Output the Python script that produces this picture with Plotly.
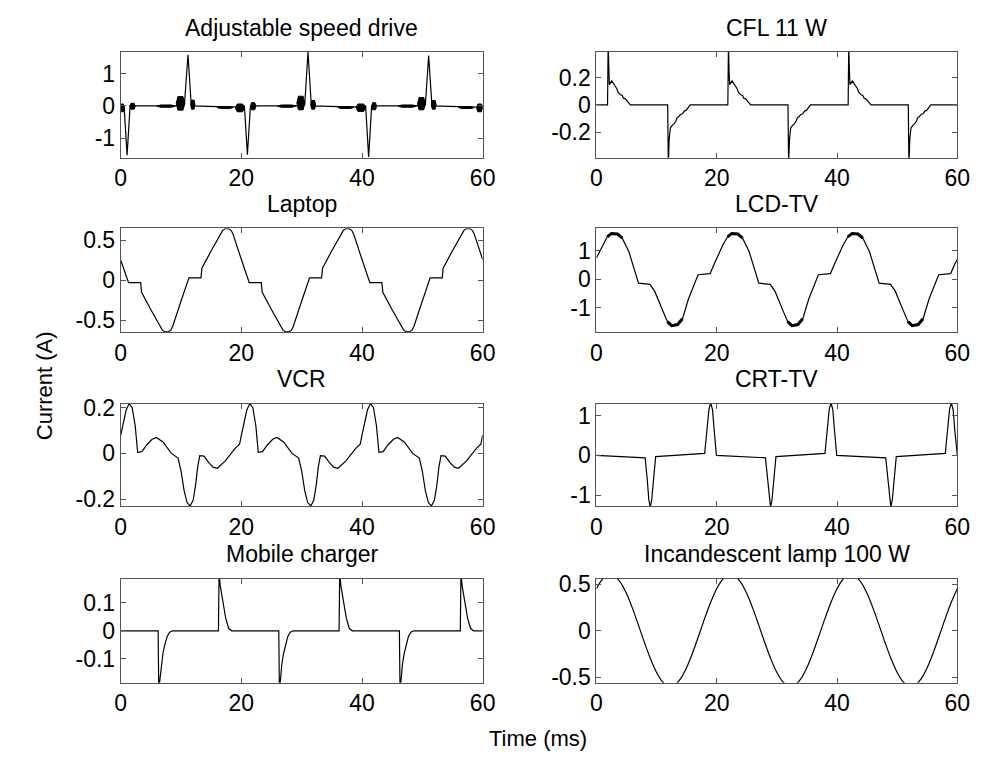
import plotly.graph_objects as go

# ---------------- data (time in ms, current in A) ----------------
time_ticks = [0, 20, 40, 60]
time_ticktext = ["0", "20", "40", "60"]

# Adjustable speed drive
asd_t = [0, 0.55, 1.05, 1.55, 2.4, 6, 9, 10.55, 11.15, 11.7, 12.3, 16, 19, 20.5, 21.0,
         21.5, 22.4, 26, 29, 30.5, 31.05, 31.6, 32.3, 36, 39, 40.6, 41.1, 41.6, 42.4, 46,
         49, 50.5, 51.05, 51.6, 52.3, 56, 60]
asd_i = [0, 0, -1.52, 0, 0, -0.01, 0, 0.03, 1.58, 0, 0, -0.02, -0.03, 0, -1.5,
         0, 0, -0.01, 0, 0.03, 1.66, 0, 0, -0.02, -0.03, 0, -1.57, 0, 0, -0.01,
         0, 0.03, 1.55, 0, 0, -0.02, -0.04]
# switching-noise blobs of the drive current (start, end, low, high)
asd_blob_t0 = [0, 1.5, 6, 9.2, 11.6, 16, 19.0, 21.5, 26, 29.2, 31.5, 36, 39.0, 41.6, 46, 49.2, 51.5, 56, 59.0]
asd_blob_t1 = [0.55, 2.4, 9, 10.6, 12.3, 18.6, 20.5, 22.4, 29, 30.5, 32.3, 38.6, 40.6, 42.4, 49, 50.5, 52.3, 58.6, 60]
asd_blob_lo = [-0.18, -0.1, -0.04, -0.13, -0.1, -0.08, -0.18, -0.12, -0.04, -0.12, -0.1, -0.08, -0.17, -0.12, -0.04, -0.12, -0.1, -0.08, -0.18]
asd_blob_hi = [0.06, 0.08, 0.03, 0.29, 0.18, -0.02, 0.06, 0.1, 0.03, 0.3, 0.17, -0.02, 0.06, 0.1, 0.03, 0.26, 0.17, -0.02, 0.06]

# CFL 11 W
cfl_t = [0, 1.85, 1.95, 2.05, 2.15, 2.55, 2.8, 3.0, 3.2, 3.4, 3.6, 3.8, 4.0, 4.3, 4.5, 4.8, 5.1, 5.4, 5.65,
         11.85, 11.95, 12.1, 12.3, 12.6, 12.9, 13.2, 13.4, 13.7, 14.0, 14.3, 14.6, 14.9, 15.2, 15.6,
         21.85, 21.95, 22.05, 22.15, 22.55, 22.8, 23.0, 23.2, 23.4, 23.6, 23.8, 24.0, 24.3, 24.5, 24.8, 25.1, 25.4, 25.65,
         31.85, 31.95, 32.1, 32.3, 32.6, 32.9, 33.2, 33.4, 33.7, 34.0, 34.3, 34.6, 34.9, 35.2, 35.6,
         41.85, 41.95, 42.05, 42.15, 42.55, 42.8, 43.0, 43.2, 43.4, 43.6, 43.8, 44.0, 44.3, 44.5, 44.8, 45.1, 45.4, 45.65,
         51.85, 51.95, 52.1, 52.3, 52.6, 52.9, 53.2, 53.4, 53.7, 54.0, 54.3, 54.6, 54.9, 55.2, 55.6, 60]
cfl_i = [0, 0, 0.45, 0.26, 0.15, 0.178, 0.16, 0.155, 0.14, 0.12, 0.095, 0.085, 0.075, 0.07, 0.05, 0.045, 0.03, 0.02, 0,
         0, -0.45, -0.25, -0.17, -0.15, -0.14, -0.12, -0.095, -0.085, -0.07, -0.065, -0.045, -0.04, -0.025, 0,
         0, 0.45, 0.26, 0.15, 0.178, 0.16, 0.155, 0.14, 0.12, 0.095, 0.085, 0.075, 0.07, 0.05, 0.045, 0.03, 0.02, 0,
         0, -0.45, -0.25, -0.17, -0.15, -0.14, -0.12, -0.095, -0.085, -0.07, -0.065, -0.045, -0.04, -0.025, 0,
         0, 0.45, 0.26, 0.15, 0.178, 0.16, 0.155, 0.14, 0.12, 0.095, 0.085, 0.075, 0.07, 0.05, 0.045, 0.03, 0.02, 0,
         0, -0.45, -0.25, -0.17, -0.15, -0.14, -0.12, -0.095, -0.085, -0.07, -0.065, -0.045, -0.04, -0.025, 0, 0]

# Laptop
lap_t = [0, 1.3, 3.3, 3.45, 5.0, 6.5, 6.9, 7.3, 7.9, 8.3, 8.6, 10.0, 11.3, 13.3, 13.45, 15.0, 16.5, 16.9, 17.3, 17.9, 18.3, 18.6, 20.0,
         21.3, 23.3, 23.45, 25.0, 26.5, 26.9, 27.3, 27.9, 28.3, 28.6, 30.0, 31.3, 33.3, 33.45, 35.0, 36.5, 36.9, 37.3, 37.9, 38.3, 38.6, 40.0,
         41.3, 43.3, 43.45, 45.0, 46.5, 46.9, 47.3, 47.9, 48.3, 48.6, 50.0, 51.3, 53.3, 53.45, 55.0, 56.5, 56.9, 57.3, 57.9, 58.3, 58.6, 60.0]
lap_i = [0.25, -0.03, -0.03, -0.15, -0.37, -0.58, -0.625, -0.645, -0.645, -0.625, -0.58, -0.26, 0.03, 0.03, 0.15, 0.37, 0.58, 0.625, 0.645, 0.645, 0.625, 0.58, 0.26,
         -0.03, -0.03, -0.15, -0.37, -0.58, -0.625, -0.645, -0.645, -0.625, -0.58, -0.26, 0.03, 0.03, 0.15, 0.37, 0.58, 0.625, 0.645, 0.645, 0.625, 0.58, 0.26,
         -0.03, -0.03, -0.15, -0.37, -0.58, -0.625, -0.645, -0.645, -0.625, -0.58, -0.26, 0.03, 0.03, 0.15, 0.37, 0.58, 0.625, 0.645, 0.645, 0.625, 0.58, 0.26]

# LCD-TV
lcd_t = [0, 1.0, 1.8, 2.5, 3.5, 4.3, 5.4, 7.0, 8.9, 9.7, 11.0, 11.8, 12.5, 13.5, 14.3, 15.3, 16.9, 18.9, 19.6,
         20.0, 21.0, 21.8, 22.5, 23.5, 24.3, 25.4, 27.0, 28.9, 29.7, 31.0, 31.8, 32.5, 33.5, 34.3, 35.3, 36.9, 38.9, 39.6,
         40.0, 41.0, 41.8, 42.5, 43.5, 44.3, 45.4, 47.0, 48.9, 49.7, 51.0, 51.8, 52.5, 53.5, 54.3, 55.3, 56.9, 58.9, 59.6, 60.0]
lcd_i = [0.75, 1.2, 1.5, 1.62, 1.6, 1.45, 0.97, -0.14, -0.18, -0.43, -1.1, -1.5, -1.64, -1.6, -1.4, -0.7, 0.16, 0.2, 0.55,
         0.75, 1.2, 1.5, 1.62, 1.6, 1.45, 0.97, -0.14, -0.18, -0.43, -1.1, -1.5, -1.64, -1.6, -1.4, -0.7, 0.16, 0.2, 0.55,
         0.75, 1.2, 1.5, 1.62, 1.6, 1.45, 0.97, -0.14, -0.18, -0.43, -1.1, -1.5, -1.64, -1.6, -1.4, -0.7, 0.16, 0.2, 0.55, 0.7]

# VCR
vcr_t = [0, 0.3, 0.9, 1.4, 1.9, 2.4, 2.8, 3.5, 4.3, 5.2, 5.9, 7.0, 8.4, 9.5, 10.0, 10.5, 11.0, 11.5, 12.0, 12.4, 12.75, 13.1, 13.8, 14.6, 15.3, 16.0, 17.3, 19.0, 19.7,
         20.0, 20.3, 20.9, 21.4, 21.9, 22.4, 22.8, 23.5, 24.3, 25.2, 25.9, 27.0, 28.4, 29.5, 30.0, 30.5, 31.0, 31.5, 32.0, 32.4, 32.75, 33.1, 33.8, 34.6, 35.3, 36.0, 37.3, 39.0, 39.7,
         40.0, 40.3, 40.9, 41.4, 41.9, 42.4, 42.8, 43.5, 44.3, 45.2, 45.9, 47.0, 48.4, 49.5, 50.0, 50.5, 51.0, 51.5, 52.0, 52.4, 52.75, 53.1, 53.8, 54.6, 55.3, 56.0, 57.3, 59.0, 59.7, 60.0]
vcr_i = [0.08, 0.12, 0.19, 0.218, 0.2, 0.12, 0.005, 0.008, 0.037, 0.062, 0.07, 0.05, 0.0, -0.02, -0.077, -0.163, -0.215, -0.23, -0.205, -0.14, -0.06, -0.01, -0.012, -0.04, -0.06, -0.065, -0.034, 0.023, 0.04,
         0.08, 0.12, 0.19, 0.218, 0.2, 0.12, 0.005, 0.008, 0.037, 0.062, 0.07, 0.05, 0.0, -0.02, -0.077, -0.163, -0.215, -0.23, -0.205, -0.14, -0.06, -0.01, -0.012, -0.04, -0.06, -0.065, -0.034, 0.023, 0.04,
         0.08, 0.12, 0.19, 0.218, 0.2, 0.12, 0.005, 0.008, 0.037, 0.062, 0.07, 0.05, 0.0, -0.02, -0.077, -0.163, -0.215, -0.23, -0.205, -0.14, -0.06, -0.01, -0.012, -0.04, -0.06, -0.065, -0.034, 0.023, 0.04, 0.08]

# CRT-TV
crt_t = [0, 8.1, 8.45, 8.7, 8.95, 9.2, 9.5, 9.85, 18.0, 18.4, 18.7, 19.0, 19.3, 19.6, 19.95,
         28.1, 28.45, 28.7, 28.95, 29.2, 29.5, 29.85, 38.0, 38.4, 38.7, 39.0, 39.3, 39.6, 39.95,
         48.1, 48.45, 48.7, 48.95, 49.2, 49.5, 49.85, 58.0, 58.4, 58.7, 59.0, 59.3, 59.6, 59.95, 60]
crt_i = [0, -0.06, -0.6, -1.1, -1.3, -1.1, -0.6, -0.03, 0.05, 0.6, 1.15, 1.32, 1.15, 0.6, 0.0,
         -0.06, -0.6, -1.1, -1.3, -1.1, -0.6, -0.03, 0.05, 0.6, 1.15, 1.32, 1.15, 0.6, 0.0,
         -0.06, -0.6, -1.1, -1.3, -1.1, -0.6, -0.03, 0.05, 0.6, 1.15, 1.32, 1.15, 0.6, 0.0, 0]

# Mobile charger
mob_t = [0, 6.2, 6.3, 6.5, 6.7, 7.0, 7.3, 7.7, 8.1, 8.6, 16.2, 16.3, 16.5, 16.8, 17.1, 17.4, 17.9, 18.4,
         26.2, 26.3, 26.5, 26.7, 27.0, 27.3, 27.7, 28.1, 28.6, 36.2, 36.3, 36.5, 36.8, 37.1, 37.4, 37.9, 38.4,
         46.2, 46.3, 46.5, 46.7, 47.0, 47.3, 47.7, 48.1, 48.6, 56.3, 56.4, 56.6, 56.9, 57.2, 57.5, 58.0, 58.5, 60]
mob_i = [0, 0, -0.21, -0.17, -0.12, -0.08, -0.05, -0.02, -0.005, 0, 0, 0.21, 0.16, 0.12, 0.08, 0.045, 0.008, 0,
         0, -0.21, -0.17, -0.12, -0.08, -0.05, -0.02, -0.005, 0, 0, 0.21, 0.16, 0.12, 0.08, 0.045, 0.008, 0,
         0, -0.21, -0.17, -0.12, -0.08, -0.05, -0.02, -0.005, 0, 0, 0.21, 0.16, 0.12, 0.08, 0.045, 0.008, 0, 0]

# Incandescent lamp 100 W
inc_t = [0, 1, 2, 3, 4, 5, 6, 7, 8, 9, 10, 11, 12, 13, 14, 15, 16, 17, 18, 19,
         20, 21, 22, 23, 24, 25, 26, 27, 28, 29, 30, 31, 32, 33, 34, 35, 36, 37, 38, 39,
         40, 41, 42, 43, 44, 45, 46, 47, 48, 49, 50, 51, 52, 53, 54, 55, 56, 57, 58, 59, 60]
inc_i = [0.45, 0.551, 0.598, 0.586, 0.517, 0.397, 0.238, 0.056, -0.131, -0.305, -0.45, -0.551, -0.598, -0.586, -0.517, -0.397, -0.238, -0.056, 0.131, 0.305,
         0.45, 0.551, 0.598, 0.586, 0.517, 0.397, 0.238, 0.056, -0.131, -0.305, -0.45, -0.551, -0.598, -0.586, -0.517, -0.397, -0.238, -0.056, 0.131, 0.305,
         0.45, 0.551, 0.598, 0.586, 0.517, 0.397, 0.238, 0.056, -0.131, -0.305, -0.45, -0.551, -0.598, -0.586, -0.517, -0.397, -0.238, -0.056, 0.131, 0.305, 0.45]

titles = ["Adjustable speed drive", "CFL 11 W", "Laptop", "LCD-TV", "VCR", "CRT-TV",
          "Mobile charger", "Incandescent lamp 100 W"]
y_ranges = [[-1.6, 1.66], [-0.39, 0.39], [-0.65, 0.65], [-1.87, 1.8],
            [-0.232, 0.218], [-1.28, 1.3], [-0.185, 0.185], [-0.56, 0.555]]
y_tickvals = [[-1, 0, 1], [-0.2, 0, 0.2], [-0.5, 0, 0.5], [-1, 0, 1],
              [-0.2, 0, 0.2], [-1, 0, 1], [-0.1, 0, 0.1], [-0.5, 0, 0.5]]
y_ticktext = [["-1", "0", "1"], ["-0.2", "0", "0.2"], ["-0.5", "0", "0.5"], ["-1", "0", "1"],
              ["-0.2", "0", "0.2"], ["-1", "0", "1"], ["-0.1", "0", "0.1"], ["-0.5", "0", "0.5"]]
series = [(asd_t, asd_i), (cfl_t, cfl_i), (lap_t, lap_i), (lcd_t, lcd_i),
          (vcr_t, vcr_i), (crt_t, crt_i), (mob_t, mob_i), (inc_t, inc_i)]

# ---------------- layout geometry ----------------
W, H = 987, 769
col_px = [(117, 486), (602, 970)]
row_px = [(44, 152), (224, 330), (403, 508), (582, 688)]
FONT = "Liberation Sans, Arial, Helvetica, sans-serif"
FS_TICK = 23
FS_TITLE = 23
FS_AXIS = 22
AXC = "#555555"

fig = go.Figure()
layout = dict(width=W, height=H, autosize=False, margin=dict(l=0, r=0, t=0, b=0),
              paper_bgcolor="white", plot_bgcolor="white", showlegend=False,
              font=dict(family=FONT, size=FS_TICK, color="black"))
annotations = []

for k in range(8):
    r, c = divmod(k, 2)
    n = k + 1
    x0, x1 = col_px[c]
    top, bot = row_px[r]
    xa = dict(domain=[x0 / W, x1 / W], anchor=f"y{n}", range=[0, 60],
              tickvals=time_ticks, ticktext=time_ticktext, ticks="inside", ticklen=5,
              tickcolor=AXC, showline=True, linecolor=AXC, linewidth=1, mirror="allticks",
              showgrid=False, zeroline=False, tickfont=dict(size=FS_TICK, family=FONT, color="black"))
    ya = dict(domain=[1 - bot / H, 1 - top / H], anchor=f"x{n}", range=y_ranges[k],
              tickvals=y_tickvals[k], ticktext=y_ticktext[k], ticks="inside", ticklen=5,
              tickcolor=AXC, showline=True, linecolor=AXC, linewidth=1, mirror="allticks",
              showgrid=False, zeroline=False, tickfont=dict(size=FS_TICK, family=FONT, color="black"))
    sfx = "" if n == 1 else str(n)
    layout["xaxis" + sfx] = xa
    layout["yaxis" + sfx] = ya
    annotations.append(dict(text=titles[k], x=(x0 + x1) / 2 / W, y=1 - (top - 25) / H,
                            xref="paper", yref="paper", xanchor="center", yanchor="middle",
                            showarrow=False, font=dict(size=FS_TITLE, family=FONT, color="black")))

    t, i = series[k]
    shape = "spline" if k == 7 else "linear"
    fig.add_trace(go.Scatter(x=t, y=i, mode="lines", line=dict(color="black", width=1.2, shape=shape),
                             xaxis=f"x{n}", yaxis=f"y{n}", hoverinfo="skip"))

# noise blobs on the adjustable speed drive current
bx, by = [], []
for a, b, lo, hi in zip(asd_blob_t0, asd_blob_t1, asd_blob_lo, asd_blob_hi):
    w = b - a
    m = (lo + hi) / 2
    bx += [a, a + 0.2 * w, b - 0.2 * w, b, b - 0.2 * w, a + 0.2 * w, a, None]
    by += [m, hi, hi, m, lo, lo, m, None]
fig.add_trace(go.Scatter(x=bx, y=by, mode="lines", fill="toself", fillcolor="black",
                         line=dict(color="black", width=1), xaxis="x", yaxis="y", hoverinfo="skip"))

# noisy peaks of the LCD-TV current drawn thicker
lcd_noisy = [v if abs(v) >= 1.4 else None for v in lcd_i]
fig.add_trace(go.Scatter(x=lcd_t, y=lcd_noisy, mode="lines", connectgaps=False,
                         line=dict(color="black", width=3), xaxis="x4", yaxis="y4", hoverinfo="skip"))

annotations.append(dict(text="Current (A)", x=40 / W, y=1 - 385 / H, xref="paper", yref="paper",
                        textangle=-90, showarrow=False, xanchor="center", yanchor="middle",
                        font=dict(size=FS_AXIS, family=FONT, color="black")))
annotations.append(dict(text="Time (ms)", x=542 / W, y=1 - 745 / H, xref="paper", yref="paper",
                        showarrow=False, xanchor="center", yanchor="middle",
                        font=dict(size=FS_AXIS, family=FONT, color="black")))
layout["annotations"] = annotations
fig.update_layout(**layout)
fig.write_html("out.html")
